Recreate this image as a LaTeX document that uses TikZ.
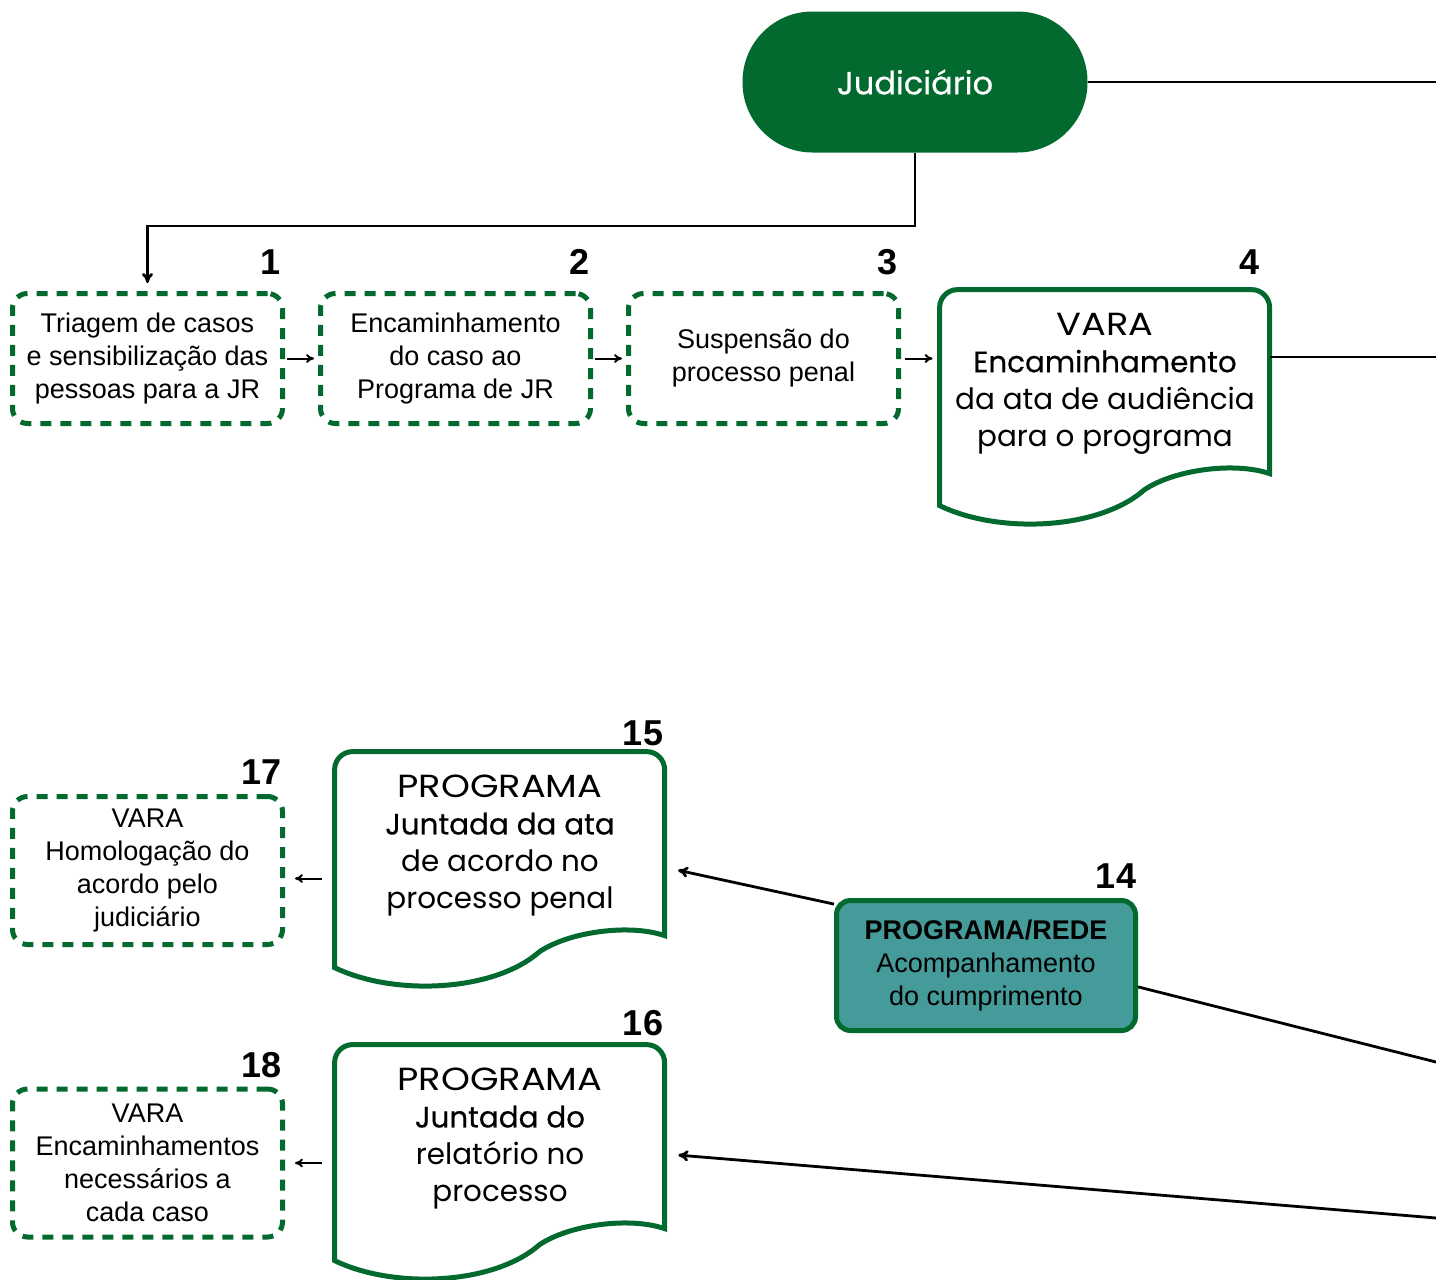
\documentclass[tikz,border=0pt]{standalone}
\usepackage{fontspec}
\setmainfont{Liberation Sans}
\newfontfamily\popfont{Poppins}
\newfontfamily\popwide{Poppins}[FakeStretch=1.15]
\newfontfamily\popmed{Poppins}[FakeBold=0.5]
\usetikzlibrary{arrows.meta}
\definecolor{jrgreen}{HTML}{036A2F}
\definecolor{jrteal}{HTML}{449B9A}

\begin{document}
\begin{tikzpicture}[x=0.5pt,y=-0.5pt,
  conn/.style={line width=1.4pt,-{To[length=5pt,width=5.5pt]}},
  plain/.style={line width=1.4pt},
  small/.style={line width=1pt,-{To[length=4pt,width=4.5pt]}},
  dashbox/.style={draw=jrgreen,line width=2.5pt,dash pattern=on 5.5pt off 4.5pt,
    rounded corners=7.5pt,minimum width=135pt,minimum height=65pt,align=center,
    font=\fontsize{13.5}{16.5}\selectfont},
  num/.style={font=\bfseries\fontsize{18}{20}\selectfont,inner sep=0pt},
  docnode/.style={minimum width=165pt,minimum height=93.5pt,align=center,inner sep=0pt,
    font=\popfont\fontsize{14.7}{18.5}\selectfont},
  docline/.style={draw=jrgreen,line width=2.5pt}]

\useasboundingbox (0,0) rectangle (1436,1280);

% Judiciario
\node[fill=jrgreen,rounded corners=35pt,minimum width=172.5pt,minimum height=70.5pt,
  text=white,font=\popmed\fontsize{16}{19}\selectfont] (jud) at (915,82) {Judiciário};
\coordinate (outj) at (1436,82);

% First row
\node[dashbox] (b1) at (147.5,358.5) {Triagem de casos\\e sensibilização das\\pessoas para a JR};
\node[dashbox] (b2) at (455.5,358.5) {Encaminhamento\\do caso ao\\Programa de JR};
\node[dashbox] (b3) at (763.5,358.5) {Suspensão do\\processo penal};
\node[docnode] (d4) at (1105,383.5) {{\popwide\fontsize{16}{18.5}\selectfont VARA}\\\popmed Encaminhamento\\da ata de audiência\\para o programa};
\coordinate (out4) at (1436,357);

% Second part
\node[docnode] (d15) at (500,845.5) {{\popwide\fontsize{16}{18.5}\selectfont PROGRAMA}\\\popmed Juntada da ata\\de acordo no\\processo penal};
\node[docnode] (d16) at (500,1138.5) {{\popwide\fontsize{16}{18.5}\selectfont PROGRAMA}\\\popmed Juntada do\\relatório no\\processo};
\node[dashbox,minimum height=74pt] (b17) at (147.5,870.5) {VARA\\Homologação do\\acordo pelo\\judiciário};
\node[dashbox,minimum height=74pt] (b18) at (147.5,1163) {VARA\\Encaminhamentos\\necessários a\\cada caso};
\node[fill=jrteal,draw=jrgreen,line width=2.5pt,rounded corners=7pt,minimum width=149.5pt,
  minimum height=65pt,align=center,font=\fontsize{13.5}{16.5}\selectfont] (b14) at (986,965.5)
  {\textbf{PROGRAMA/REDE}\\Acompanhamento\\do cumprimento};
\coordinate (out14) at (1436,1062);
\coordinate (out16) at (1436,1218);

% Document outlines (wavy bottom)
\foreach \d in {d4,d15,d16}
  \draw[docline] (\d.north west) ++(0,216) [rounded corners=9pt] -- ++(0,-216) -- ++(330,0)
    [sharp corners] -- ++(0,184)
    .. controls +(-35,-12) and +(30,-20) .. ++(-125,16)
    .. controls +(-45,40) and +(60,29) .. ++(-205,16) -- cycle;

% Numbers
\foreach \n/\x in {1/271,2/580,3/888,4/1249}
  \node[num] (n\n) at (\x,262) {\n};
\node[num] (n15) at (643,733) {15};
\node[num] (n16) at (643,1023) {16};
\node[num] (n17) at (262,772) {17};
\node[num] (n18) at (262,1065) {18};
\node[num] (n14) at (1116,876) {14};

% Connectors
\draw[conn,shorten >=4pt] (jud.south) -- ++(0,73) -| (b1.north);
\draw[plain] (jud.east) -- (outj);
\draw[small,shorten <=1pt,shorten >=2pt] (b1.east) -- (b2.west);
\draw[small,shorten <=1pt,shorten >=2pt] (b2.east) -- (b3.west);
\draw[small,shorten <=2pt,shorten >=3.5pt] (b3.east) -- (b3.east -| d4.west);
\draw[plain] (out4 -| d4.east) -- (out4);
\draw[conn,shorten >=6.5pt] (b14.158) -- ([yshift=-11pt]d15.east);
\draw[plain] (b14.-8) -- (out14);
\draw[conn,shorten >=6.5pt] (out16) -- ([yshift=-7.75pt]d16.east);
\draw[small,shorten <=6.5pt,shorten >=5pt] ([yshift=-4pt]b17.east -| d15.west) -- ([yshift=-4pt]b17.east);
\draw[small,shorten <=6.5pt,shorten >=5pt] (b18.east -| d16.west) -- (b18.east);
\end{tikzpicture}
\end{document}
